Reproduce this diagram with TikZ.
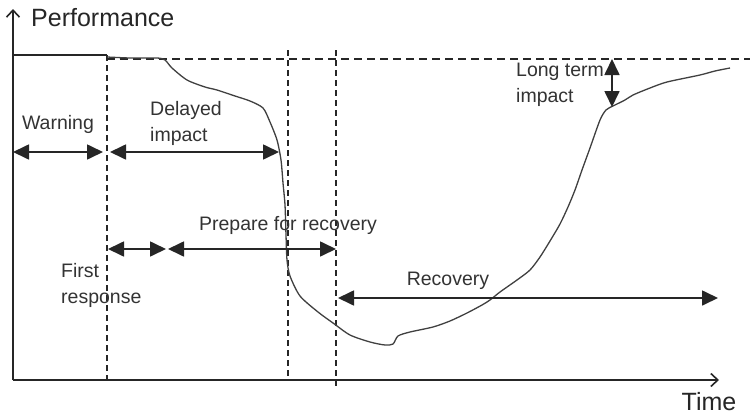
\documentclass[tikz,border=0pt]{standalone}
\usepackage{fontspec}
\setmainfont{Liberation Sans}
\usetikzlibrary{arrows.meta}
\begin{document}
\begin{tikzpicture}[x=1pt,y=-1pt,
  ink/.style={draw=black!85, line width=1.6pt},
  dashv/.style={draw=black!85, line width=1.4pt, dash pattern=on 6pt off 4pt},
  dashh/.style={draw=black!85, line width=1.4pt, dash pattern=on 8pt off 5pt},
  tri/.tip={Triangle[length=16pt,width=15pt]},
  dimarrow/.style={draw=black!85, line width=1.7pt, tri-tri},
  lbl/.style={font=\fontsize{19.5}{26}\selectfont, text=black!80, inner sep=0pt, align=left},
  axlbl/.style={font=\fontsize{25}{30}\selectfont, text=black!85, inner sep=0pt},
  perf/.style={draw=black!75, line width=1.3pt, line join=round}]
\useasboundingbox[fill=white] (0,0) rectangle (750,418);

% axes
\coordinate (O) at (13,380);
\coordinate (ytop) at (13,9);
\coordinate (xend) at (719,380);
\draw[ink, -{Straight Barb[length=7pt,width=13pt]}] (O) -- (ytop);
\draw[ink, -{Straight Barb[length=7pt,width=13pt]}] (O) -- (xend);
\node[axlbl, anchor=west] (perfl) at (31,18) {Performance};
\node[axlbl] (timel) at (709,402) {Time};

% baseline
\coordinate (b0) at (13,55);
\coordinate (b1) at (107,55);
\draw[ink] (b0) -- (b1);
\coordinate (h0) at (107,59);
\coordinate (h1) at (750,59);
\draw[dashh] (h0) -- (h1);

% vertical dashed lines
\coordinate (v1t) at (107,55);
\coordinate (v1b) at (107,380);
\coordinate (v2t) at (288,50);
\coordinate (v2b) at (288,380);
\coordinate (v3t) at (336,50);
\coordinate (v3b) at (336,386);
\draw[dashv] (v1t) -- (v1b);
\draw[dashv] (v2t) -- (v2b);
\draw[dashv] (v3t) -- (v3b);

% performance curve
\draw[perf] plot[smooth, tension=0.45] coordinates {
 (107,57) (130,58) (157,58) (165,60) (172,68) (187,80) (205,87) (217,90)
 (235,96) (250,101) (263,108) (270,122) (277,140) (281,160) (283,183)
 (285,205) (286,235) (287,260) (290,276) (300,296) (318,312) (333,323)
 (350,335) (370,342) (385,345) (393,344) (398,336) (410,332) (433,327)
 (450,321) (467,313) (482,305) (490,300) (500,292) (517,280) (530,270)
 (540,257) (550,241) (560,224) (568,207) (575,190) (582,170) (590,148)
 (600,120) (606,110) (613,106) (625,100) (633,95) (650,88) (667,82)
 (700,75) (715,71) (730,68)};

% Warning
\coordinate (w0) at (13,152);
\coordinate (w1) at (103,152);
\draw[dimarrow] (w0) -- (w1);
\node[lbl] (warn) at (58,124) {Warning};

% Delayed impact
\coordinate (d0) at (110,152);
\coordinate (d1) at (279,152);
\draw[dimarrow] (d0) -- (d1);
\node[lbl, anchor=west] (delay) at (150,123) {Delayed\\impact};

% First response
\coordinate (f0) at (108,249);
\coordinate (f1) at (166,249);
\draw[dimarrow] (f0) -- (f1);
\node[lbl, anchor=west] (first) at (61,285) {First\\response};

% Prepare for recovery
\coordinate (p0) at (168,249);
\coordinate (p1) at (336,249);
\draw[dimarrow] (p0) -- (p1);
\node[lbl] (prep) at (288,225) {Prepare for recovery};

% Recovery
\coordinate (r0) at (338,298);
\coordinate (r1) at (718,298);
\draw[dimarrow] (r0) -- (r1);
\node[lbl] (rec) at (448,281) {Recovery};

% Long term impact
\coordinate (l0) at (612,59);
\coordinate (l1) at (612,107);
\draw[dimarrow] (l0) -- (l1);
\node[lbl, anchor=west] (long) at (516,85) {Long term\\impact};
\end{tikzpicture}
\end{document}
